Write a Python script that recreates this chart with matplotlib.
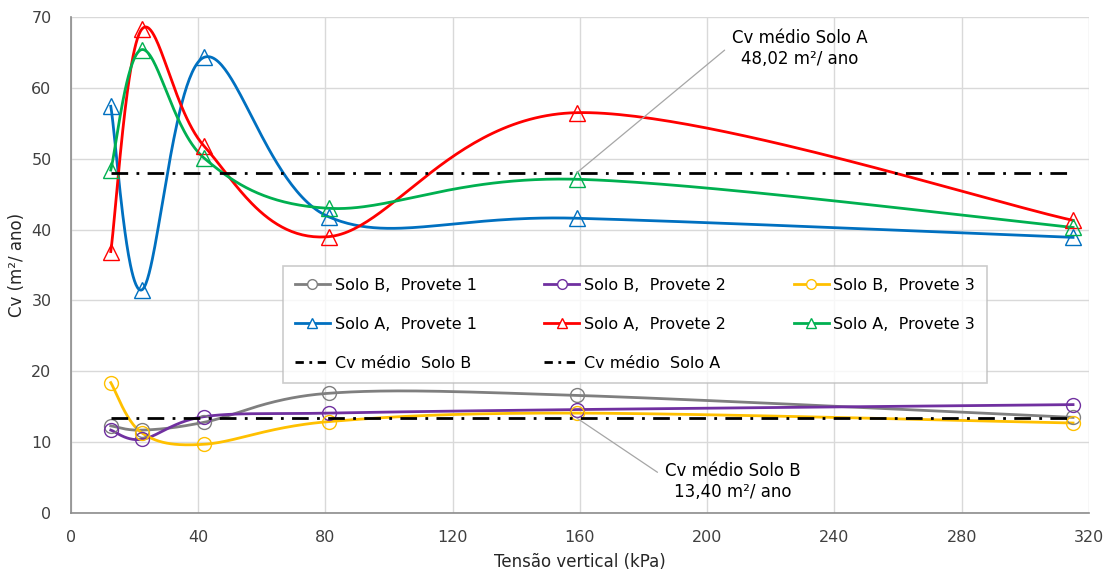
import matplotlib.pyplot as plt
import numpy as np
from matplotlib.lines import Line2D

# tensao vertical (kPa)
tensao = [12.5, 22.3, 41.8, 81.0, 159.0, 315.0]

soloB_p1 = [12.3, 11.7, 12.8, 16.9, 16.6, 13.5]
soloB_p2 = [11.7, 10.4, 13.6, 14.1, 14.6, 15.3]
soloB_p3 = [18.4, 11.3, 9.7, 12.9, 14.1, 12.7]

soloA_p1 = [57.4, 31.5, 64.3, 41.8, 41.6, 38.9]
soloA_p2 = [36.9, 68.3, 51.8, 39.0, 56.5, 41.3]
soloA_p3 = [48.4, 65.4, 50.1, 43.0, 47.1, 40.3]

cv_medio_B = 13.40
cv_medio_A = 48.02

labels_B = ["Solo B,  Provete 1", "Solo B,  Provete 2", "Solo B,  Provete 3"]
labels_A = ["Solo A,  Provete 1", "Solo A,  Provete 2", "Solo A,  Provete 3"]
cores_B = ["#7f7f7f", "#7030a0", "#ffc000"]
cores_A = ["#0070c0", "#ff0000", "#00b050"]


def excelSmooth(x, y, n=60):
    # curva de Bezier como a linha suavizada do Excel
    p = np.column_stack([x, y]).astype(float)
    out = []
    for i in range(len(p) - 1):
        p0 = p[i - 1] if i > 0 else p[i]
        p1 = p[i]
        p2 = p[i + 1]
        p3 = p[i + 2] if i + 2 < len(p) else p[i + 1]
        c1 = p1 + (p2 - p0) / 6
        c2 = p2 - (p3 - p1) / 6
        t = np.linspace(0, 1, n)[:, None]
        seg = ((1 - t) ** 3) * p1 + 3 * ((1 - t) ** 2) * t * c1 + 3 * (1 - t) * t ** 2 * c2 + t ** 3 * p2
        out.append(seg)
    out = np.vstack(out)
    return out[:, 0], out[:, 1]


plt.rcParams['font.family'] = 'DejaVu Sans'
fig = plt.figure(figsize=(11.13, 5.72), dpi=100)
ax = fig.add_axes([0.0638, 0.1031, 0.9146, 0.8672])

handles = {}

for serie, cor, lab in zip([soloB_p1, soloB_p2, soloB_p3], cores_B, labels_B):
    xs, ys = excelSmooth(tensao, serie)
    ax.plot(xs, ys, color=cor, lw=2, zorder=3)
    ax.plot(tensao, serie, 'o', mfc='none', mec=cor, ms=10, mew=1.0, zorder=4)
    handles[lab] = Line2D([], [], color=cor, lw=2, marker='o', mfc='white', mec=cor, ms=7, mew=1.0)

for serie, cor, lab in zip([soloA_p1, soloA_p2, soloA_p3], cores_A, labels_A):
    xs, ys = excelSmooth(tensao, serie)
    ax.plot(xs, ys, color=cor, lw=2, zorder=3)
    ax.plot(tensao, serie, '^', mfc='none', mec=cor, ms=11, mew=1.0, zorder=4)
    handles[lab] = Line2D([], [], color=cor, lw=2, marker='^', mfc='white', mec=cor, ms=7, mew=1.0)

ax.plot([tensao[0], tensao[-1]], [cv_medio_B] * 2, color='black', lw=2, ls=(0, (6, 3, 1, 3)), zorder=5)
ax.plot([tensao[0], tensao[-1]], [cv_medio_A] * 2, color='black', lw=2, ls=(0, (6, 3, 1, 3)), zorder=5)
handles["Cv médio  Solo B"] = Line2D([], [], color='black', lw=2, ls=(0, (3, 2, 1, 2)))
handles["Cv médio  Solo A"] = Line2D([], [], color='black', lw=2, ls=(0, (3, 2, 1, 2)))

ax.annotate("Cv médio Solo A\n48,02 m²/ ano", xy=(tensao[4], cv_medio_A),
            xytext=(229, 65.6), ha='center', va='center', fontsize=12, multialignment='center',
            arrowprops=dict(arrowstyle='-', color='#a6a6a6', lw=0.9, relpos=(0, 0.6), shrinkA=4, shrinkB=0),
            zorder=6)
ax.annotate("Cv médio Solo B\n13,40 m²/ ano", xy=(tensao[4], cv_medio_B),
            xytext=(208, 4.5), ha='center', va='center', fontsize=12, multialignment='center',
            arrowprops=dict(arrowstyle='-', color='#a6a6a6', lw=0.9, relpos=(0, 0.6), shrinkA=4, shrinkB=0),
            zorder=6)

ordem = [labels_B[0], labels_A[0], "Cv médio  Solo B",
         labels_B[1], labels_A[1], "Cv médio  Solo A",
         labels_B[2], labels_A[2]]
leg = ax.legend([handles[k] for k in ordem], ordem, ncol=3, loc='upper left',
                bbox_to_anchor=(0.208, 0.26, 0.692, 0.238), mode='expand', borderaxespad=0,
                fontsize=11.5, frameon=True, fancybox=False, edgecolor='#bfbfbf',
                handlelength=2.2, handletextpad=0.3, labelspacing=1.5, borderpad=0.75)
leg.get_frame().set_linewidth(1.2)
leg.set_zorder(7)

ax.set_xlim(0, 320)
ax.set_ylim(0, 70)
ax.set_xticks(np.arange(0, 321, 40))
ax.set_yticks(np.arange(0, 71, 10))
ax.grid(True, color='#d9d9d9', lw=1)
ax.set_axisbelow(True)
ax.tick_params(axis='x', length=0, labelsize=11.5, colors='#404040', pad=12)
ax.tick_params(axis='y', length=0, labelsize=11.5, colors='#404040', pad=14)
for s in ['top', 'right']:
    ax.spines[s].set_visible(False)
for s in ['left', 'bottom']:
    ax.spines[s].set_color('#8c8c8c')
    ax.spines[s].set_linewidth(1.2)
ax.set_xlabel("Tensão vertical (kPa)", fontsize=12, color='#262626', labelpad=6)
ax.set_ylabel("Cv (m²/ ano)", fontsize=12, color='#262626', labelpad=4)

fig.savefig("out.png", dpi=100)
